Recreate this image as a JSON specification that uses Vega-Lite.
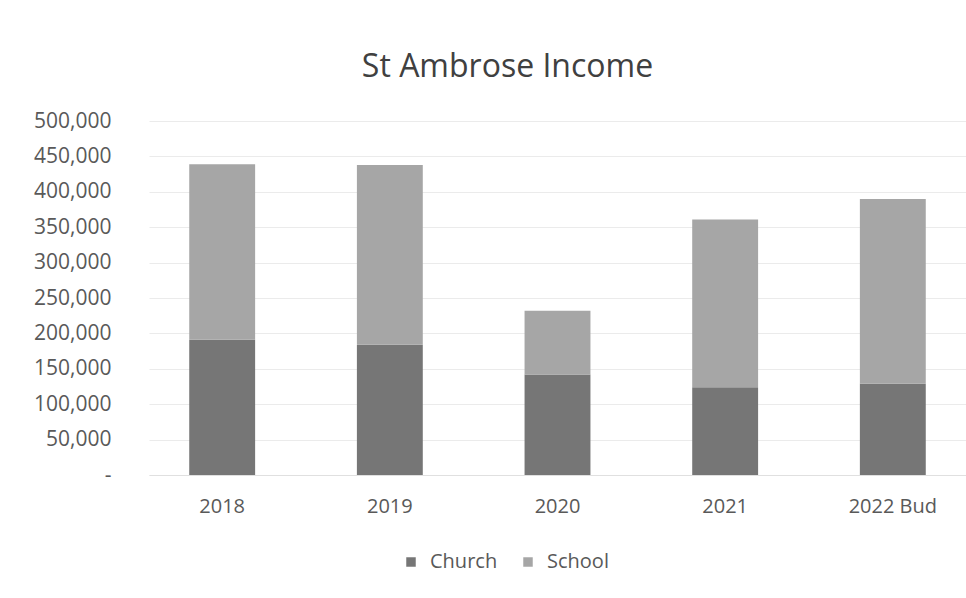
{
  "$schema": "https://vega.github.io/schema/vega-lite/v6.json",
  "autosize": "none",
  "width": 817,
  "height": 354,
  "padding": {"left": 149, "top": 121, "right": 0, "bottom": 123},
  "background": "white",
  "title": {
    "text": "St Ambrose Income",
    "fontSize": 32,
    "font": "Open Sans",
    "fontWeight": "normal",
    "color": "#404040",
    "anchor": "middle",
    "dx": -50,
    "offset": 26
  },
  "data": {
    "values": [
      {"year": "2018", "source": "Church", "income": 191000},
      {"year": "2018", "source": "School", "income": 248000},
      {"year": "2019", "source": "Church", "income": 184000},
      {"year": "2019", "source": "School", "income": 254000},
      {"year": "2020", "source": "Church", "income": 142000},
      {"year": "2020", "source": "School", "income": 90000},
      {"year": "2021", "source": "Church", "income": 124000},
      {"year": "2021", "source": "School", "income": 237000},
      {"year": "2022 Bud", "source": "Church", "income": 129000},
      {"year": "2022 Bud", "source": "School", "income": 261000}
    ]
  },
  "mark": {"type": "bar"},
  "encoding": {
    "x": {
      "field": "year",
      "type": "nominal",
      "sort": null,
      "title": null,
      "scale": {"paddingInner": 0.607, "paddingOuter": 0.24},
      "axis": {
        "labelAngle": 0,
        "labelFontSize": 20,
        "labelFont": "Open Sans",
        "labelColor": "#595959",
        "ticks": false,
        "labelPadding": 21,
        "domainColor": "#e0e0e0",
        "grid": false
      }
    },
    "y": {
      "field": "income",
      "type": "quantitative",
      "stack": "zero",
      "title": null,
      "scale": {"domain": [0, 500000], "nice": false},
      "axis": {
        "values": [0, 50000, 100000, 150000, 200000, 250000, 300000, 350000, 400000, 450000, 500000],
        "format": ",.0f",
        "labelExpr": "datum.value === 0 ? '-\u00a0\u00a0\u00a0' : datum.label",
        "labelFontSize": 21,
        "labelFont": "Open Sans",
        "labelColor": "#595959",
        "ticks": false,
        "domain": false,
        "labelPadding": 38,
        "gridColor": "#ebebeb",
        "gridWidth": 1
      }
    },
    "color": {
      "field": "source",
      "type": "nominal",
      "scale": {"domain": ["Church", "School"], "range": ["#767676", "#a6a6a6"]},
      "legend": {
        "title": null,
        "orient": "none",
        "direction": "horizontal",
        "legendX": 252,
        "legendY": 431,
        "symbolType": "square",
        "symbolSize": 90,
        "symbolStrokeWidth": 0,
        "labelFontSize": 20,
        "labelFont": "Open Sans",
        "labelColor": "#595959",
        "columnPadding": 20,
        "labelOffset": 9
      }
    },
    "order": {"field": "source", "sort": "ascending"}
  },
  "config": {"view": {"stroke": null}}
}
